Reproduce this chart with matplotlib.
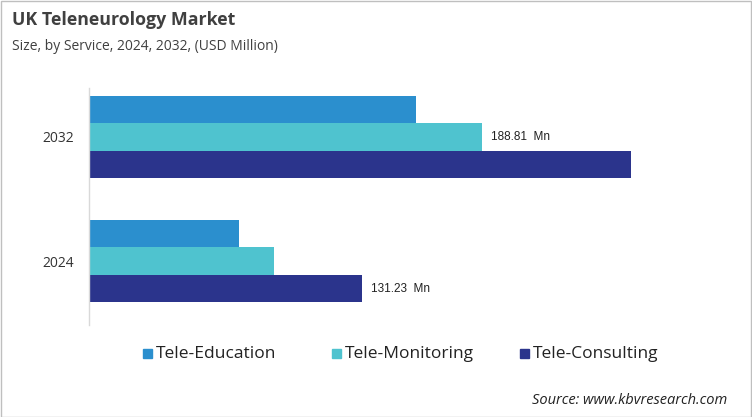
import matplotlib
matplotlib.use("Agg")
import matplotlib.pyplot as plt
from matplotlib.patches import Rectangle
import numpy as np

years = ["2024", "2032"]
series = ["Tele-Education", "Tele-Monitoring", "Tele-Consulting"]
tele_education = [71.9, 157.1]
tele_monitoring = [88.8, 188.81]
tele_consulting = [131.23, 260.7]
colors = ["#2b8fce", "#4fc3cf", "#2b348c"]
labels_shown = {("Tele-Consulting", 0): "131.23  Mn", ("Tele-Monitoring", 1): "188.81  Mn"}

plt.rcParams['font.family'] = ['Open Sans', 'DejaVu Sans']

W, H = 752, 417
fig = plt.figure(figsize=(W / 100, H / 100), dpi=100)

# axes placement in pixels
ax_left, ax_right, ax_top, ax_bottom = 89, 700, 88, 325
ax = fig.add_axes([ax_left / W, 1 - ax_bottom / H, (ax_right - ax_left) / W, (ax_bottom - ax_top) / H])

bh = 0.222
y = np.arange(len(years))
data = [tele_education, tele_monitoring, tele_consulting]
for i, (name, vals) in enumerate(zip(series, data)):
    offs = (1 - i) * bh
    ax.barh(y + offs, vals, height=bh, color=colors[i], label=name)
    for j, v in enumerate(vals):
        if (name, j) in labels_shown:
            ax.text(v + 4.5, y[j] + offs, labels_shown[(name, j)], va='center', ha='left',
                    fontsize=8.5, color='#222222', family=['Liberation Sans', 'DejaVu Sans'])

ax.set_ylim(-0.516, 1.395)
ax.set_xlim(0, (ax_right - ax_left) / 2.08)
ax.set_yticks(y)
ax.set_yticklabels(years, fontsize=10, color='#333333')
ax.tick_params(axis='y', length=0, pad=11)
ax.set_xticks([])
for s in ['top', 'right', 'bottom']:
    ax.spines[s].set_visible(False)
ax.spines['left'].set_color('#d9d9d9')
ax.spines['left'].set_linewidth(1)

fig.text(12 / W, 1 - 20 / H, "UK Teleneurology Market", fontsize=12.8, fontweight='bold',
         color='#404040', va='center', ha='left')
fig.text(12 / W, 1 - 47 / H, "Size, by Service, 2024, 2032, (USD Million)", fontsize=10,
         color='#404040', va='center', ha='left')

# legend
leg_x = [143, 332, 520]
for i, name in enumerate(series):
    fig.patches.append(Rectangle((leg_x[i] / W, 1 - 358 / H), 9 / W, 9 / H,
                                 transform=fig.transFigure, color=colors[i]))
    fig.text((leg_x[i] + 13) / W, 1 - 353.5 / H, name, fontsize=12.5, color='#222222',
             va='center', ha='left')

fig.text(727 / W, 1 - 400 / H, "Source: www.kbvresearch.com", fontsize=10.5, style='italic',
         color='#222222', va='center', ha='right')

# border
fig.patches.append(Rectangle((0.5 / W, 0.5 / H), (W - 1.5) / W, (H - 1.5) / H, transform=fig.transFigure,
                             fill=False, edgecolor='#bfbfbf', linewidth=1))

fig.savefig("out.png", dpi=100)
